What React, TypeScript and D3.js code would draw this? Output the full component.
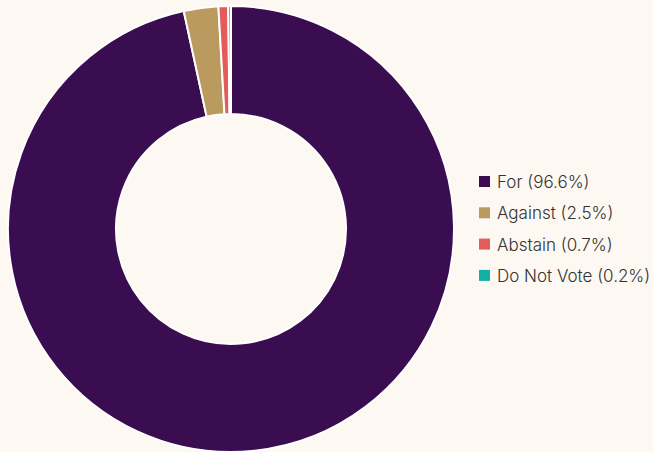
import React from "react";
import * as d3 from "d3";

const labels = ["For", "Against", "Abstain", "Do Not Vote"];
const values = [96.6, 2.5, 0.7, 0.2];
const colors = ["#3a0c50", "#bb9a60", "#e35b5b", "#14b0a6"];

export default function App() {
  const W = 653, H = 452;
  const cx = 231, cy = 229, R = 223, r = 115;
  const pie = d3.pie<number>().sort(null).value((d) => d)(values);
  const arc = d3.arc<d3.PieArcDatum<number>>().innerRadius(r).outerRadius(R);
  return (
    <svg width={W} height={H} style={{ position: "absolute", left: 0, top: 0, background: "#fdf8f2" }}>
      <rect width={W} height={H} fill="#fdf8f2" />
      <g transform={`translate(${cx},${cy})`}>
        {pie.map((p, i) => (
          <path key={i} d={arc(p) || ""} fill={colors[i]} stroke="#ffffff" strokeWidth={2} />
        ))}
      </g>
      <g fontFamily="Inter, Lato, sans-serif" fontSize={17} fontWeight={300}>
        {labels.map((l, i) => (
          <g key={i} transform={`translate(479,${182 + i * 31.3})`}>
            <rect x={0} y={-6} width={11} height={11} fill={colors[i]} />
            <text x={18} y={0} dominantBaseline="central" fill="#333">{`${l} (${values[i]}%)`}</text>
          </g>
        ))}
      </g>
    </svg>
  );
}
